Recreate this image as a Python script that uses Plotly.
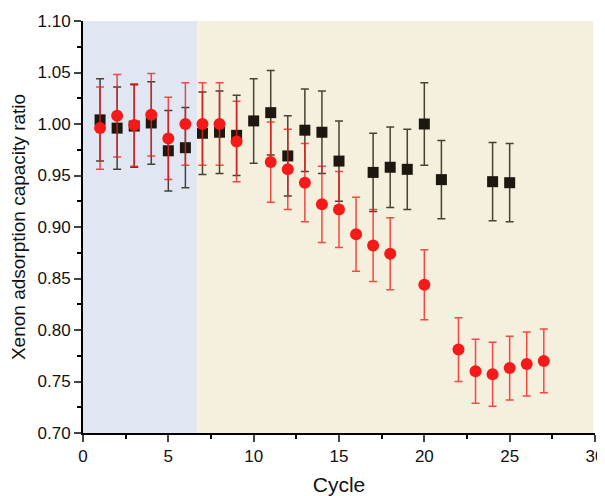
import plotly.graph_objects as go

# Black squares series
cycle_black = [1, 2, 3, 4, 5, 6, 7, 8, 9, 10, 11, 12, 13, 14, 15, 17, 18, 19, 20, 21, 24, 25]
ratio_black = [1.004, 0.996, 0.998, 1.001, 0.974, 0.977, 0.991, 0.992, 0.989, 1.003, 1.011, 0.969,
               0.994, 0.992, 0.964, 0.953, 0.958, 0.956, 1.000, 0.946, 0.944, 0.943]
err_black = [0.040, 0.040, 0.040, 0.040, 0.039, 0.039, 0.040, 0.040, 0.039, 0.041, 0.041, 0.039,
             0.040, 0.040, 0.039, 0.038, 0.039, 0.039, 0.040, 0.038, 0.038, 0.038]

# Red circles series
cycle_red = [1, 2, 3, 4, 5, 6, 7, 8, 9, 11, 12, 13, 14, 15, 16, 17, 18, 20, 22, 23, 24, 25, 26, 27]
ratio_red = [0.996, 1.008, 0.999, 1.009, 0.986, 1.000, 1.000, 1.000, 0.983, 0.963, 0.956, 0.943,
             0.922, 0.917, 0.893, 0.882, 0.874, 0.844, 0.781, 0.760, 0.757, 0.763, 0.767, 0.770]
err_red = [0.040, 0.040, 0.040, 0.040, 0.040, 0.040, 0.040, 0.040, 0.039, 0.039, 0.039, 0.038,
           0.037, 0.037, 0.036, 0.035, 0.035, 0.034, 0.031, 0.031, 0.031, 0.031, 0.031, 0.031]

region_split = 6.7
x_range = [0, 30]
y_range = [0.70, 1.10]

fig = go.Figure()

fig.add_shape(type="rect", xref="x", yref="y", x0=x_range[0], x1=region_split,
              y0=y_range[0], y1=y_range[1], fillcolor="#e0e7f2", line_width=0, layer="below")
fig.add_shape(type="rect", xref="x", yref="y", x0=region_split, x1=x_range[1] - 0.1,
              y0=y_range[0], y1=y_range[1], fillcolor="#f5efdd", line_width=0, layer="below")

fig.add_trace(go.Scatter(
    x=cycle_black, y=ratio_black, mode="markers",
    marker=dict(symbol="square", size=11, color="#1c1810"),
    error_y=dict(type="data", array=err_black, visible=True,
                 color="rgba(40,35,25,0.85)", thickness=1.5, width=4),
    showlegend=False))

fig.add_trace(go.Scatter(
    x=cycle_red, y=ratio_red, mode="markers",
    marker=dict(symbol="circle", size=12, color="#f51a1a"),
    error_y=dict(type="data", array=err_red, visible=True,
                 color="rgba(245,30,30,0.8)", thickness=1.5, width=4),
    showlegend=False))

font_family = "Liberation Sans, Arial, sans-serif"

# The page body adds an 8px offset, so the figure is 8px smaller on each axis.
fig.update_layout(
    width=597, height=488,
    margin=dict(l=75, r=10, t=13, b=63),
    paper_bgcolor="white", plot_bgcolor="white",
    font=dict(family=font_family, size=17, color="#111"),
    xaxis=dict(range=x_range, tick0=0, dtick=5, ticks="outside", ticklen=7, tickwidth=2,
               showline=True, linecolor="black", linewidth=2, showgrid=False, zeroline=False,
               tickfont=dict(size=17), automargin=False,
               minor=dict(dtick=2.5, ticks="outside", ticklen=4, tickwidth=2, tickcolor="black"),
               title=dict(text="Cycle", font=dict(size=21), standoff=14)),
    yaxis=dict(range=y_range, tick0=0.70, dtick=0.05, tickformat=".2f", ticks="outside",
               ticklen=7, tickwidth=2,
               showline=True, linecolor="black", linewidth=2, showgrid=False, zeroline=False,
               tickfont=dict(size=17), automargin=False,
               minor=dict(dtick=0.025, ticks="outside", ticklen=4, tickwidth=2, tickcolor="black"),
               title=dict(text="Xenon adsorption capacity ratio", font=dict(size=19), standoff=7)),
)

fig.write_html("out.html")
